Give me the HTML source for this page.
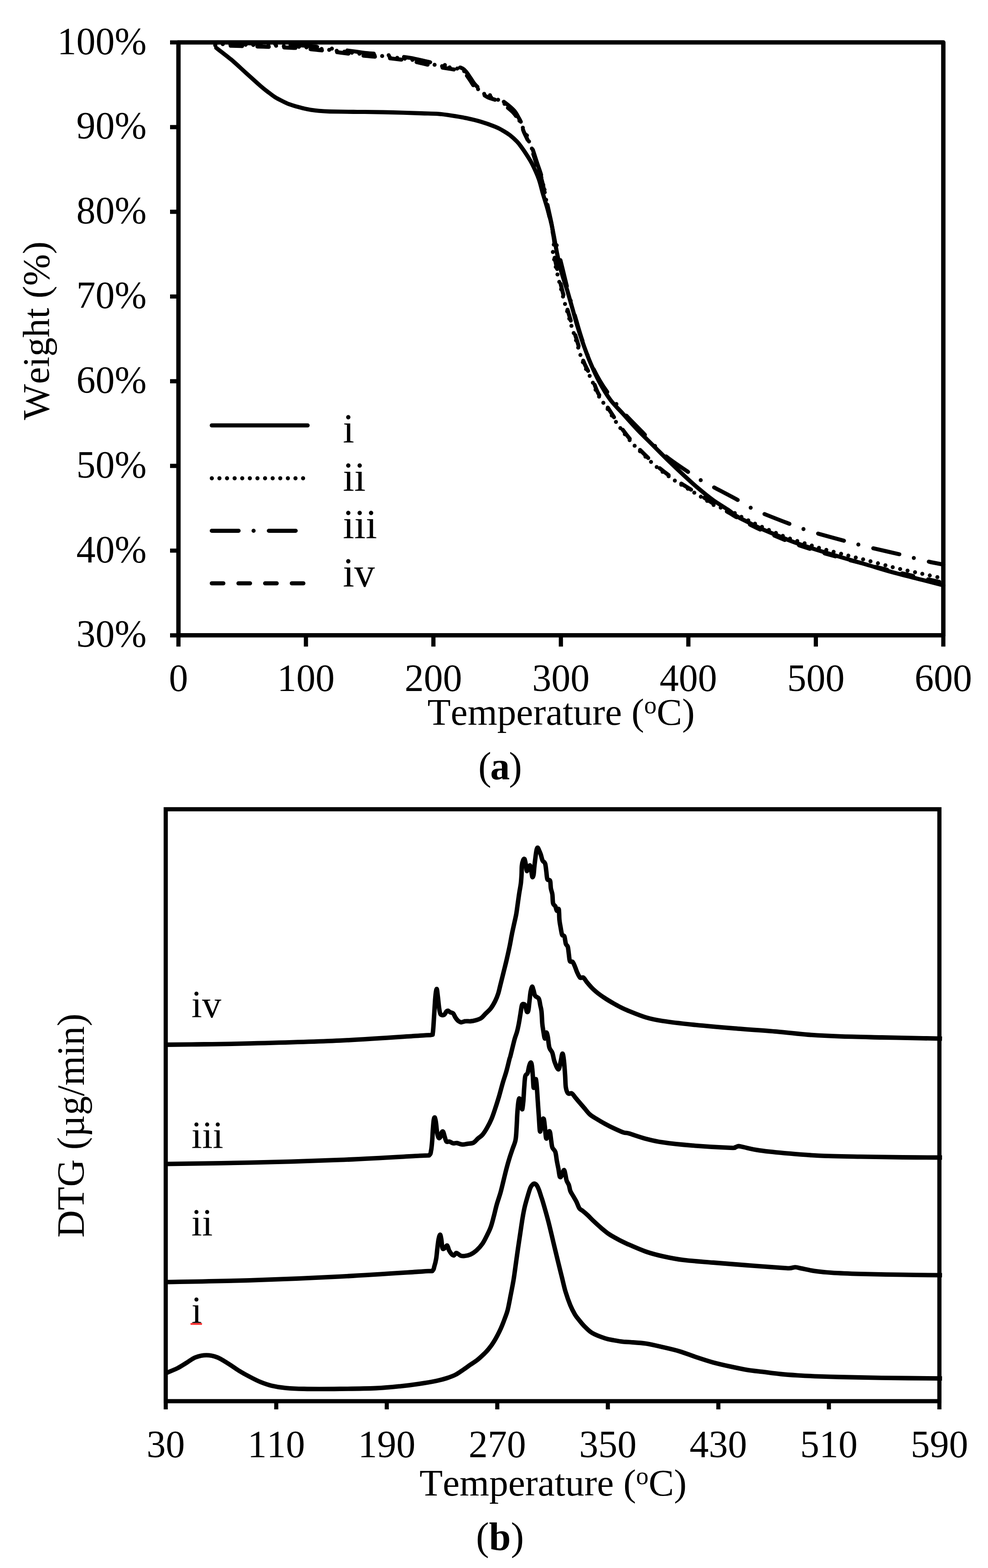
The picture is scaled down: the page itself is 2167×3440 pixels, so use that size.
<!DOCTYPE html>
<html lang="en"><head><meta charset="utf-8"><title>TGA and DTG curves</title>
<style>html,body{margin:0;padding:0;background:#fff}body{width:2167px;height:3440px;overflow:hidden}svg{display:block}text{font-family:'Liberation Serif', 'DejaVu Serif', serif;fill:#000;font-kerning:none;font-variant-ligatures:none}</style>
</head><body>
<svg width="2167" height="3440" viewBox="0 0 2167 3440">
<rect width="2167" height="3440" fill="#fff"/>
<g id="chart-a">
<g fill="none" stroke="#000" stroke-linecap="butt" stroke-linejoin="round">
<rect x="391.4" y="93.0" width="1677.6" height="1300.8" stroke-width="9.6"/>
<path d="M373,93.0H391.4 M373,278.8H391.4 M373,464.7H391.4 M373,650.5H391.4 M373,836.3H391.4 M373,1022.1H391.4 M373,1208.0H391.4 M373,1393.8H391.4 M391.4,1393.8V1418.5 M671.0,1393.8V1418.5 M950.6,1393.8V1418.5 M1230.2,1393.8V1418.5 M1509.8,1393.8V1418.5 M1789.4,1393.8V1418.5 M2069.0,1393.8V1418.5" stroke-width="9.2"/>
</g>
<g font-size="84" text-anchor="end">
<text x="321.5" y="118.5">100%</text>
<text x="321.5" y="304.3">90%</text>
<text x="321.5" y="490.2">80%</text>
<text x="321.5" y="676.0">70%</text>
<text x="321.5" y="861.8">60%</text>
<text x="321.5" y="1047.6">50%</text>
<text x="321.5" y="1233.5">40%</text>
<text x="321.5" y="1419.3">30%</text>
</g>
<g font-size="84" text-anchor="middle">
<text x="391.4" y="1515.5">0</text>
<text x="671.0" y="1515.5">100</text>
<text x="950.6" y="1515.5">200</text>
<text x="1230.2" y="1515.5">300</text>
<text x="1509.8" y="1515.5">400</text>
<text x="1789.4" y="1515.5">500</text>
<text x="2069.0" y="1515.5">600</text>
<text x="1230.7" y="1590" font-size="83.5">Temperature (<tspan font-size="55" dy="-25">o</tspan><tspan dy="25">C)</tspan></text>
</g>
<text font-size="83.5" text-anchor="middle" transform="translate(107.4,725.5) rotate(-90)">Weight (%)</text>
<path d="M472.0,96.5 C487.5,96.9 536.3,98.1 565.0,99.0 C593.7,99.9 624.3,101.0 644.0,102.0 C663.7,103.0 669.8,103.8 683.0,105.0 C696.2,106.2 707.7,107.7 723.0,109.5 C738.3,111.3 762.2,114.3 775.0,116.0 C787.8,117.7 790.8,118.5 800.0,119.5 C809.2,120.5 820.0,121.0 830.0,122.0 C840.0,123.0 848.3,124.1 860.0,125.5 C871.7,126.9 888.0,128.5 900.0,130.5 C912.0,132.5 922.0,135.3 932.0,137.5 C942.0,139.7 950.3,141.7 960.0,143.5 C969.7,145.3 981.3,147.0 990.0,148.5 C998.7,150.0 1006.7,150.5 1012.0,152.5 C1017.3,154.5 1018.7,156.8 1022.0,160.5 C1025.3,164.2 1029.0,170.2 1032.0,174.5 C1035.0,178.8 1036.7,182.5 1040.0,186.5 C1043.3,190.5 1047.0,194.5 1052.0,198.5 C1057.0,202.5 1063.7,207.3 1070.0,210.5 C1076.3,213.7 1083.3,214.2 1090.0,217.5 C1096.7,220.8 1103.7,225.7 1110.0,230.5 C1116.3,235.3 1123.3,241.2 1128.0,246.5 C1132.7,251.8 1135.0,257.2 1138.0,262.5 C1141.0,267.8 1144.0,274.2 1146.0,278.5 C1148.0,282.8 1146.8,281.5 1149.9,288.4 C1152.9,295.3 1159.8,308.2 1164.4,320.1 C1169.0,331.9 1173.4,346.9 1177.6,359.6 C1181.7,372.3 1185.7,381.6 1189.4,396.5 C1193.2,411.5 1196.7,433.4 1200.0,449.3 C1203.3,465.1 1206.6,478.3 1209.2,491.4 C1211.8,504.6 1215.2,517.6 1215.8,528.4 C1216.4,539.1 1210.4,537.5 1213.0,555.7 C1215.6,573.9 1225.3,612.9 1231.4,637.5 C1237.6,662.1 1244.6,685.4 1249.9,703.4 C1255.2,721.4 1258.2,730.2 1263.1,745.6 C1267.9,761.0 1273.2,781.2 1278.9,795.7 C1284.6,810.2 1292.1,821.2 1297.4,832.6 C1302.6,844.0 1305.2,854.2 1310.5,864.2 C1315.9,874.2 1321.7,880.8 1329.5,892.5 C1337.3,904.2 1347.3,920.8 1357.2,934.5 C1367.1,948.2 1375.8,960.3 1389.1,974.8 C1402.4,989.3 1422.0,1008.4 1436.9,1021.5 C1451.8,1034.6 1462.1,1042.0 1478.5,1053.2 C1494.9,1064.4 1520.2,1079.1 1535.2,1088.5 C1550.2,1097.9 1558.1,1104.5 1568.5,1109.5 C1578.9,1114.5 1586.5,1113.6 1597.7,1118.5 C1608.9,1123.4 1623.8,1132.9 1635.4,1138.8 C1647.0,1144.7 1656.9,1149.2 1667.3,1154.0 C1677.7,1158.8 1687.4,1163.1 1697.8,1167.5 C1708.2,1171.9 1717.9,1176.2 1729.7,1180.5 C1741.5,1184.8 1757.1,1189.3 1768.8,1193.1 C1780.5,1196.8 1787.3,1199.3 1800.0,1203.0 C1812.7,1206.7 1828.3,1210.7 1845.0,1215.0 C1861.7,1219.3 1879.8,1223.8 1900.0,1229.0 C1920.2,1234.2 1949.3,1242.2 1966.0,1246.3 C1982.7,1250.4 1989.0,1251.4 2000.0,1253.8 C2011.0,1256.2 2020.5,1258.4 2032.0,1260.9 C2043.5,1263.4 2062.8,1267.7 2069.0,1269.0" fill="none" stroke="#000" stroke-width="8.8" stroke-linecap="round" stroke-linejoin="round" stroke-dasharray="0 16.7"/>
<path d="M472.0,99.5 C487.5,99.9 536.3,101.1 565.0,102.0 C593.7,102.9 624.3,104.0 644.0,105.0 C663.7,106.0 669.8,106.8 683.0,108.0 C696.2,109.2 707.7,110.7 723.0,112.5 C738.3,114.3 762.2,117.3 775.0,119.0 C787.8,120.7 790.8,121.5 800.0,122.5 C809.2,123.5 820.0,124.0 830.0,125.0 C840.0,126.0 848.3,127.1 860.0,128.5 C871.7,129.9 888.0,131.5 900.0,133.5 C912.0,135.5 922.0,138.3 932.0,140.5 C942.0,142.7 950.3,144.7 960.0,146.5 C969.7,148.3 981.3,150.0 990.0,151.5 C998.7,153.0 1006.7,153.5 1012.0,155.5 C1017.3,157.5 1018.7,159.8 1022.0,163.5 C1025.3,167.2 1029.0,173.2 1032.0,177.5 C1035.0,181.8 1036.7,185.5 1040.0,189.5 C1043.3,193.5 1047.0,197.5 1052.0,201.5 C1057.0,205.5 1063.7,210.3 1070.0,213.5 C1076.3,216.7 1083.3,217.2 1090.0,220.5 C1096.7,223.8 1103.7,228.7 1110.0,233.5 C1116.3,238.3 1123.3,244.2 1128.0,249.5 C1132.7,254.8 1135.0,260.2 1138.0,265.5 C1141.0,270.8 1144.0,277.2 1146.0,281.5 C1148.0,285.8 1146.8,284.5 1149.9,291.4 C1152.9,298.3 1159.8,311.2 1164.4,323.1 C1169.0,334.9 1173.4,349.9 1177.6,362.6 C1181.7,375.3 1185.7,384.6 1189.4,399.5 C1193.2,414.5 1196.7,436.4 1200.0,452.3 C1203.3,468.1 1206.6,481.3 1209.2,494.4 C1211.8,507.6 1214.9,521.4 1215.8,531.4 C1216.7,541.3 1211.6,536.8 1214.5,554.2 C1217.3,571.7 1226.8,611.4 1232.9,636.0 C1239.1,660.6 1246.1,683.9 1251.4,701.9 C1256.7,719.9 1259.7,728.7 1264.6,744.1 C1269.4,759.5 1274.7,779.7 1280.4,794.2 C1286.1,808.7 1293.6,819.7 1298.9,831.1 C1304.1,842.5 1306.7,852.7 1312.0,862.7 C1317.4,872.7 1323.2,879.3 1331.0,891.0 C1338.8,902.7 1348.8,919.3 1358.7,933.0 C1368.6,946.7 1377.3,958.8 1390.6,973.3 C1403.9,987.8 1423.5,1006.9 1438.4,1020.0 C1453.3,1033.1 1463.6,1040.5 1480.0,1051.7 C1496.4,1062.9 1521.7,1077.6 1536.7,1087.0 C1551.7,1096.4 1559.5,1101.6 1570.0,1108.0 C1580.5,1114.4 1592.1,1120.9 1600.0,1125.5 C1607.9,1130.1 1610.6,1132.0 1617.3,1135.8 C1624.0,1139.6 1631.7,1144.0 1640.0,1148.3 C1648.3,1152.6 1657.7,1157.4 1667.3,1161.8 C1676.9,1166.2 1687.4,1170.4 1697.8,1174.8 C1708.2,1179.2 1719.1,1183.8 1729.7,1187.9 C1740.3,1192.0 1749.9,1195.4 1761.6,1199.3 C1773.3,1203.2 1786.1,1207.4 1800.0,1211.5 C1813.9,1215.6 1828.3,1219.6 1845.0,1224.0 C1861.7,1228.4 1880.8,1233.1 1900.0,1238.0 C1919.2,1242.9 1938.1,1248.2 1960.0,1253.5 C1981.9,1258.8 2013.0,1265.8 2031.2,1270.0 C2049.4,1274.2 2062.7,1277.1 2069.0,1278.5" fill="none" stroke="#000" stroke-width="8.8" stroke-linecap="round" stroke-linejoin="round" stroke-dasharray="25 33.5" stroke-dashoffset="24.5"/>
<path d="M472.0,93.0 C487.5,93.4 536.3,94.6 565.0,95.5 C593.7,96.4 624.3,97.5 644.0,98.5 C663.7,99.5 669.8,100.2 683.0,101.5 C696.2,102.8 707.7,104.2 723.0,106.0 C738.3,107.8 762.2,110.8 775.0,112.5 C787.8,114.2 790.8,115.0 800.0,116.0 C809.2,117.0 820.0,117.5 830.0,118.5 C840.0,119.5 848.3,120.6 860.0,122.0 C871.7,123.4 888.0,125.0 900.0,127.0 C912.0,129.0 922.0,131.8 932.0,134.0 C942.0,136.2 950.3,138.2 960.0,140.0 C969.7,141.8 981.3,143.5 990.0,145.0 C998.7,146.5 1006.7,147.0 1012.0,149.0 C1017.3,151.0 1018.7,153.3 1022.0,157.0 C1025.3,160.7 1029.0,166.7 1032.0,171.0 C1035.0,175.3 1036.7,179.0 1040.0,183.0 C1043.3,187.0 1047.0,191.0 1052.0,195.0 C1057.0,199.0 1063.7,203.8 1070.0,207.0 C1076.3,210.2 1083.3,210.7 1090.0,214.0 C1096.7,217.3 1103.7,222.2 1110.0,227.0 C1116.3,231.8 1123.3,237.7 1128.0,243.0 C1132.7,248.3 1135.0,253.7 1138.0,259.0 C1141.0,264.3 1144.0,270.7 1146.0,275.0 C1148.0,279.3 1146.8,278.0 1149.9,284.9 C1152.9,291.8 1159.8,304.7 1164.4,316.6 C1169.0,328.4 1173.4,343.4 1177.6,356.1 C1181.7,368.8 1185.7,378.1 1189.4,393.0 C1193.2,408.0 1196.7,429.9 1200.0,445.8 C1203.3,461.6 1206.6,474.8 1209.2,487.9 C1211.8,501.1 1213.8,516.4 1215.8,524.9 C1217.8,533.3 1218.0,527.4 1221.1,538.4 C1224.1,549.5 1229.9,573.6 1234.3,591.1 C1238.6,608.7 1243.0,627.2 1247.4,643.9 C1251.8,660.6 1255.8,674.6 1260.6,691.3 C1265.5,708.0 1270.7,726.9 1276.4,744.1 C1282.2,761.2 1288.4,779.0 1294.9,794.2 C1301.4,809.3 1308.6,823.1 1315.5,835.0 C1322.4,847.0 1327.6,854.2 1336.3,865.9 C1345.0,877.6 1355.5,891.4 1367.6,905.0 C1379.6,918.7 1394.2,932.7 1408.8,947.9 C1423.3,963.1 1438.4,981.9 1454.9,996.3 C1471.4,1010.7 1494.7,1025.2 1507.6,1034.2 C1520.6,1043.3 1523.6,1045.4 1532.4,1050.7 C1541.1,1056.0 1545.9,1058.4 1560.0,1066.0 C1574.1,1073.6 1602.9,1088.5 1617.0,1096.3 C1631.1,1104.1 1634.9,1107.7 1644.4,1112.7 C1653.9,1117.7 1659.2,1120.3 1673.9,1126.5 C1688.6,1132.7 1718.0,1144.0 1732.7,1149.7 C1747.4,1155.4 1752.1,1157.3 1762.2,1160.7 C1772.3,1164.1 1778.0,1165.9 1793.2,1170.3 C1808.5,1174.7 1838.5,1182.8 1853.7,1187.0 C1869.0,1191.2 1874.3,1192.5 1884.7,1195.2 C1895.1,1197.9 1900.4,1199.3 1916.0,1203.0 C1931.6,1206.7 1962.9,1213.6 1978.3,1217.3 C1993.7,1221.0 1998.5,1222.7 2008.6,1225.2 C2018.7,1227.8 2028.7,1230.4 2038.8,1232.6 C2048.9,1234.8 2064.0,1237.6 2069.0,1238.6" fill="none" stroke="#000" stroke-width="8.8" stroke-linecap="round" stroke-linejoin="round" stroke-dasharray="58.5 33 0 33.7" stroke-dashoffset="-40"/>
<path d="M474.2,105.0 C479.8,109.3 496.7,122.0 507.5,131.1 C518.3,140.2 528.6,150.1 539.1,159.6 C549.6,169.1 562.9,181.2 570.8,188.1 C578.7,195.0 581.3,196.7 586.6,200.8 C591.9,204.9 597.1,209.2 602.4,212.6 C607.7,216.0 612.9,218.6 618.2,221.3 C623.5,224.0 628.7,226.6 634.0,228.6 C639.3,230.6 644.6,232.1 649.9,233.6 C655.2,235.1 660.4,236.6 665.7,237.8 C671.0,239.0 675.8,240.1 681.5,241.0 C687.2,241.9 693.1,242.7 700.0,243.3 C706.9,243.9 710.2,244.2 722.8,244.6 C735.4,244.9 762.6,245.2 775.5,245.4 C788.4,245.6 785.6,245.3 800.0,245.5 C814.4,245.7 841.2,246.1 862.0,246.6 C882.8,247.1 908.7,248.1 925.0,248.6 C941.3,249.1 948.9,248.9 960.0,249.8 C971.1,250.6 981.1,252.1 991.6,253.7 C1002.2,255.3 1012.7,257.0 1023.3,259.3 C1033.8,261.5 1044.4,264.0 1054.9,267.2 C1065.5,270.3 1078.7,275.1 1086.6,278.3 C1094.5,281.4 1097.1,283.1 1102.4,286.2 C1107.7,289.2 1112.9,292.4 1118.2,296.4 C1123.5,300.5 1129.7,306.2 1134.0,310.7 C1138.3,315.1 1140.5,318.5 1144.0,323.2 C1147.5,327.9 1151.0,333.0 1154.8,339.0 C1158.6,345.0 1162.3,350.1 1166.8,359.0 C1171.3,367.9 1177.6,381.4 1181.6,392.4 C1185.6,403.4 1187.5,414.0 1190.7,424.8 C1193.9,435.6 1197.4,446.4 1200.5,457.2 C1203.6,468.0 1206.6,478.8 1209.1,489.6 C1211.6,500.4 1213.5,511.2 1215.6,522.0 C1217.7,532.8 1219.3,543.5 1221.5,554.3 C1223.7,565.1 1226.1,577.1 1228.5,586.7 C1230.9,596.3 1233.3,603.2 1236.0,612.0 C1238.7,620.8 1241.6,628.4 1244.9,639.6 C1248.2,650.8 1252.3,665.9 1256.1,679.1 C1259.8,692.3 1263.3,705.5 1267.4,718.7 C1271.5,731.9 1275.8,745.0 1280.5,758.2 C1285.2,771.4 1290.1,784.6 1295.7,797.8 C1301.3,811.0 1307.1,824.1 1314.2,837.3 C1321.3,850.5 1329.9,865.2 1338.5,876.9 C1347.1,888.6 1355.9,896.2 1365.9,907.3 C1376.0,918.5 1387.9,932.1 1398.9,943.6 C1409.9,955.1 1420.9,965.6 1431.8,976.6 C1442.8,987.5 1453.8,998.8 1464.8,1009.5 C1475.8,1020.2 1486.8,1030.7 1497.8,1040.8 C1508.7,1051.0 1519.7,1061.2 1530.7,1070.5 C1541.7,1079.8 1552.7,1088.9 1563.7,1096.9 C1574.7,1104.8 1587.7,1112.2 1596.6,1118.3 C1605.6,1124.4 1610.1,1128.8 1617.3,1133.3 C1624.5,1137.8 1631.7,1141.0 1640.0,1145.3 C1648.3,1149.5 1657.7,1154.4 1667.3,1158.8 C1676.9,1163.2 1687.4,1167.4 1697.8,1171.8 C1708.2,1176.2 1719.1,1180.8 1729.7,1184.9 C1740.3,1189.0 1749.9,1192.5 1761.6,1196.5 C1773.3,1200.5 1786.1,1204.7 1800.0,1209.0 C1813.9,1213.3 1828.3,1217.6 1845.0,1222.5 C1861.7,1227.4 1880.8,1232.9 1900.0,1238.5 C1919.2,1244.1 1938.1,1250.2 1960.0,1256.2 C1981.9,1262.2 2013.0,1269.7 2031.2,1274.4 C2049.4,1279.1 2062.7,1282.6 2069.0,1284.2" fill="none" stroke="#000" stroke-width="9.1" stroke-linecap="round" stroke-linejoin="round"/>
<g fill="none" stroke="#000" stroke-width="9.0" stroke-linecap="round">
<path d="M464.5,933.3H674.7"/>
<path d="M464.6,1049.3H670" stroke-dasharray="0 16.68"/>
<path d="M464.5,1164.4H650" stroke-dasharray="58.8 32.9 0 33.5"/>
<path d="M464.5,1279.8H670" stroke-dasharray="25.4 33.1"/>
</g>
<g font-size="90">
<text x="752" y="971">i</text>
<text x="752" y="1076.8">ii</text>
<text x="752" y="1181.2">iii</text>
<text x="752" y="1287">iv</text>
</g>
<text x="1097" y="1710" font-size="86" text-anchor="middle">(<tspan font-weight="bold" dx="-2.5">a</tspan><tspan dx="-2">)</tspan></text>
</g>
<g id="chart-b">
<path d="M363.7,2292.0 C373.1,2291.9 389.3,2291.9 420.0,2291.4 C450.7,2290.9 493.5,2290.6 547.8,2289.2 C602.0,2287.8 683.5,2285.7 745.5,2282.9 C807.5,2280.0 886.4,2274.2 919.8,2272.1 C953.1,2270.0 940.5,2271.6 945.5,2270.5 C950.4,2269.3 948.3,2272.1 949.4,2265.2 C950.5,2258.3 951.2,2241.6 952.1,2228.9 C953.0,2216.3 953.8,2199.3 954.7,2189.4 C955.6,2179.5 956.7,2170.1 957.7,2169.6 C958.6,2169.0 959.4,2178.9 960.3,2186.1 C961.3,2193.2 962.2,2205.9 963.3,2212.4 C964.3,2219.0 964.8,2223.3 966.6,2225.6 C968.4,2227.9 972.1,2227.4 974.2,2226.3 C976.2,2225.2 977.7,2220.5 979.1,2219.0 C980.5,2217.6 981.0,2217.1 982.4,2217.4 C983.8,2217.7 985.4,2219.7 987.3,2220.7 C989.3,2221.7 992.0,2221.4 993.9,2223.3 C995.9,2225.2 997.1,2229.5 998.9,2232.2 C1000.7,2234.9 1002.7,2237.7 1004.8,2239.5 C1006.9,2241.2 1008.8,2242.6 1011.4,2242.8 C1014.0,2242.9 1016.9,2240.8 1020.3,2240.5 C1023.7,2240.1 1028.3,2240.7 1031.8,2240.5 C1035.4,2240.2 1037.9,2239.9 1041.7,2238.8 C1045.6,2237.7 1051.1,2236.3 1054.9,2233.9 C1058.8,2231.4 1061.2,2227.6 1064.8,2224.0 C1068.4,2220.4 1072.8,2217.1 1076.3,2212.4 C1079.9,2207.8 1083.5,2201.5 1086.2,2196.0 C1089.0,2190.5 1090.9,2185.5 1092.8,2179.5 C1094.7,2173.4 1095.8,2167.4 1097.8,2159.7 C1099.7,2152.0 1102.2,2142.1 1104.4,2133.3 C1106.5,2124.6 1108.7,2116.3 1110.9,2107.0 C1113.1,2097.6 1115.6,2086.6 1117.5,2077.3 C1119.5,2068.0 1120.8,2059.2 1122.5,2050.9 C1124.1,2042.7 1125.8,2035.6 1127.4,2027.9 C1129.1,2020.2 1131.0,2012.5 1132.4,2004.8 C1133.7,1997.1 1134.6,1989.4 1135.7,1981.7 C1136.8,1974.0 1137.9,1965.8 1139.0,1958.7 C1140.1,1951.5 1141.4,1945.5 1142.3,1938.9 C1143.1,1932.3 1143.5,1925.7 1143.9,1919.1 C1144.3,1912.5 1144.0,1904.5 1144.6,1899.3 C1145.1,1894.1 1146.2,1890.3 1147.2,1887.8 C1148.2,1885.3 1149.5,1883.1 1150.5,1884.5 C1151.5,1885.9 1152.3,1891.6 1153.1,1896.0 C1154.0,1900.4 1154.2,1910.0 1155.4,1910.9 C1156.6,1911.7 1159.2,1902.9 1160.4,1901.0 C1161.6,1899.1 1161.9,1897.7 1162.7,1899.3 C1163.5,1901.0 1164.5,1906.7 1165.3,1910.9 C1166.2,1915.0 1166.8,1922.7 1167.6,1924.0 C1168.5,1925.4 1169.6,1922.7 1170.3,1919.1 C1171.0,1915.5 1171.3,1908.7 1171.9,1902.6 C1172.6,1896.6 1173.4,1889.2 1174.2,1882.8 C1175.0,1876.5 1176.0,1868.6 1176.9,1864.7 C1177.7,1860.9 1178.5,1859.5 1179.5,1859.8 C1180.5,1860.1 1181.7,1863.9 1182.8,1866.4 C1183.9,1868.8 1184.9,1871.0 1186.1,1874.6 C1187.3,1878.2 1188.5,1884.5 1190.0,1887.8 C1191.6,1891.1 1194.3,1890.3 1195.6,1894.4 C1197.0,1898.5 1197.5,1906.7 1198.3,1912.5 C1199.1,1918.3 1199.2,1925.7 1200.6,1929.0 C1202.0,1932.3 1205.3,1929.0 1206.5,1932.3 C1207.8,1935.6 1207.4,1943.8 1208.2,1948.8 C1209.0,1953.7 1210.6,1956.5 1211.5,1962.0 C1212.3,1967.4 1212.0,1977.3 1213.1,1981.7 C1214.2,1986.1 1216.7,1985.6 1218.1,1988.3 C1219.4,1991.1 1220.1,1997.1 1221.4,1998.2 C1222.6,1999.3 1224.7,1991.6 1225.6,1994.9 C1226.6,1998.2 1226.3,2011.4 1227.0,2018.0 C1227.6,2024.6 1228.6,2029.0 1229.6,2034.5 C1230.6,2040.0 1231.5,2047.6 1232.9,2050.9 C1234.3,2054.2 1236.5,2050.9 1237.8,2054.2 C1239.2,2057.5 1239.9,2066.9 1241.1,2070.7 C1242.4,2074.6 1244.3,2073.5 1245.4,2077.3 C1246.5,2081.2 1247.0,2088.6 1247.7,2093.8 C1248.5,2099.0 1248.7,2105.9 1250.0,2108.6 C1251.4,2111.4 1254.2,2108.3 1256.0,2110.3 C1257.8,2112.2 1259.3,2116.3 1260.9,2120.2 C1262.6,2124.0 1263.9,2129.2 1265.9,2133.3 C1267.8,2137.5 1270.1,2143.0 1272.4,2144.9 C1274.8,2146.8 1277.2,2143.2 1279.7,2144.9 C1282.2,2146.5 1284.1,2150.9 1287.3,2154.8 C1290.5,2158.6 1294.7,2163.8 1298.8,2167.9 C1302.9,2172.1 1307.1,2175.6 1312.0,2179.5 C1316.9,2183.3 1323.0,2187.5 1328.5,2191.0 C1334.0,2194.6 1339.5,2197.8 1345.0,2200.9 C1350.5,2204.0 1355.9,2207.1 1361.4,2209.8 C1366.9,2212.6 1374.8,2216.0 1377.9,2217.4 C1381.0,2218.8 1373.5,2215.8 1380.0,2218.3 C1386.5,2220.8 1404.6,2228.5 1416.9,2232.1 C1429.2,2235.8 1436.9,2237.4 1453.8,2240.0 C1470.7,2242.6 1492.3,2245.1 1518.4,2247.8 C1544.6,2250.5 1580.0,2253.6 1610.7,2256.1 C1641.5,2258.7 1676.1,2260.7 1703.0,2263.1 C1729.9,2265.4 1749.1,2268.2 1772.2,2270.0 C1795.3,2271.7 1814.5,2272.7 1841.4,2273.7 C1868.4,2274.7 1903.0,2275.3 1933.7,2276.0 C1964.5,2276.7 2003.9,2277.4 2026.0,2277.8 C2048.1,2278.3 2059.5,2278.6 2066.2,2278.7" fill="none" stroke="#000" stroke-width="9.8" stroke-linecap="butt" stroke-linejoin="round"/>
<path d="M363.7,2553.6 C394.4,2553.1 484.1,2552.1 547.8,2550.7 C611.4,2549.2 683.5,2547.2 745.5,2544.7 C807.5,2542.2 887.2,2537.4 919.8,2535.7 C952.4,2533.9 936.9,2535.9 941.2,2534.0 C945.5,2532.1 944.4,2529.1 945.5,2524.1 C946.6,2519.2 947.1,2512.0 947.8,2504.4 C948.5,2496.7 948.8,2485.9 949.4,2478.0 C950.0,2470.0 950.7,2461.0 951.4,2456.6 C952.1,2452.2 953.0,2450.8 953.7,2451.6 C954.5,2452.4 955.2,2456.0 956.0,2461.5 C956.9,2467.0 957.7,2478.8 958.7,2484.6 C959.7,2490.3 960.8,2494.5 962.0,2496.1 C963.2,2497.8 964.8,2496.4 965.9,2494.5 C967.0,2492.5 967.6,2486.5 968.6,2484.6 C969.5,2482.7 970.8,2481.6 971.9,2482.9 C973.0,2484.3 973.9,2489.2 975.1,2492.8 C976.4,2496.4 977.3,2502.4 979.1,2504.4 C980.9,2506.3 983.2,2503.7 985.7,2504.4 C988.2,2505.0 991.2,2507.8 993.9,2508.3 C996.7,2508.9 998.9,2507.2 1002.2,2507.6 C1005.5,2508.1 1009.9,2510.7 1013.7,2510.9 C1017.6,2511.2 1021.1,2510.0 1025.2,2509.3 C1029.4,2508.6 1034.6,2508.9 1038.4,2507.0 C1042.3,2505.1 1045.0,2500.7 1048.3,2497.8 C1051.6,2494.8 1054.9,2493.4 1058.2,2489.5 C1061.5,2485.7 1064.8,2480.5 1068.1,2474.7 C1071.4,2468.9 1075.0,2462.1 1078.0,2454.9 C1081.0,2447.8 1083.5,2440.1 1086.2,2431.8 C1089.0,2423.6 1091.7,2414.8 1094.5,2405.5 C1097.2,2396.1 1100.0,2385.1 1102.7,2375.8 C1105.4,2366.5 1108.5,2358.2 1110.9,2349.4 C1113.4,2340.7 1116.2,2328.3 1117.5,2323.1 C1118.9,2317.8 1118.1,2322.1 1119.2,2317.9 C1120.3,2313.8 1122.5,2304.7 1124.1,2298.1 C1125.8,2291.5 1127.4,2284.1 1129.1,2278.4 C1130.7,2272.6 1132.5,2269.0 1134.0,2263.5 C1135.5,2258.0 1136.8,2251.7 1138.0,2245.4 C1139.2,2239.1 1140.2,2232.2 1141.3,2225.6 C1142.4,2219.0 1143.5,2209.7 1144.6,2205.9 C1145.7,2202.0 1146.6,2202.6 1147.9,2202.6 C1149.1,2202.6 1150.9,2203.1 1152.1,2205.9 C1153.4,2208.6 1154.3,2217.1 1155.4,2219.0 C1156.5,2221.0 1157.8,2220.7 1158.7,2217.4 C1159.7,2214.1 1160.2,2206.1 1161.0,2199.3 C1161.9,2192.4 1162.7,2182.0 1163.7,2176.2 C1164.7,2170.4 1165.9,2165.2 1167.0,2164.7 C1168.1,2164.1 1169.2,2169.6 1170.3,2172.9 C1171.4,2176.2 1171.6,2181.4 1173.6,2184.4 C1175.5,2187.5 1179.9,2187.5 1181.8,2191.0 C1183.7,2194.6 1184.1,2201.2 1185.1,2205.9 C1186.1,2210.5 1187.0,2212.4 1187.7,2219.0 C1188.5,2225.6 1188.7,2238.3 1189.4,2245.4 C1190.0,2252.5 1190.8,2256.4 1191.7,2261.9 C1192.6,2267.4 1193.9,2277.8 1195.0,2278.4 C1196.1,2278.9 1197.2,2265.7 1198.3,2265.2 C1199.4,2264.6 1200.5,2269.6 1201.6,2275.1 C1202.7,2280.6 1203.2,2292.3 1204.9,2298.1 C1206.5,2303.9 1209.5,2304.6 1211.5,2309.9 C1213.4,2315.1 1214.2,2323.6 1216.4,2329.7 C1218.6,2335.7 1222.5,2346.1 1224.7,2346.1 C1226.9,2346.1 1228.1,2335.4 1229.6,2329.7 C1231.1,2323.9 1232.3,2312.1 1233.6,2311.5 C1234.8,2311.0 1235.9,2318.4 1236.8,2326.4 C1237.8,2334.3 1238.8,2349.4 1239.5,2359.3 C1240.2,2369.2 1240.0,2379.1 1241.1,2385.7 C1242.2,2392.3 1243.9,2396.7 1246.1,2398.9 C1248.3,2401.1 1251.6,2397.2 1254.3,2398.9 C1257.1,2400.5 1259.5,2405.2 1262.6,2408.8 C1265.6,2412.3 1269.1,2416.5 1272.4,2420.3 C1275.7,2424.1 1278.8,2427.7 1282.3,2431.8 C1285.9,2436.0 1289.5,2441.2 1293.9,2445.0 C1298.3,2448.9 1302.9,2451.3 1308.7,2454.9 C1314.5,2458.5 1321.9,2462.9 1328.5,2466.4 C1335.1,2470.0 1341.7,2473.3 1348.3,2476.3 C1354.8,2479.4 1362.7,2482.8 1368.0,2484.6 C1373.3,2486.3 1371.9,2484.5 1380.0,2486.8 C1388.1,2489.2 1404.6,2495.2 1416.9,2498.4 C1429.2,2501.6 1436.9,2503.8 1453.8,2506.2 C1470.7,2508.7 1493.8,2511.2 1518.4,2513.2 C1543.0,2515.2 1585.7,2517.6 1601.5,2518.2 C1617.3,2518.8 1609.9,2517.5 1613.0,2516.8 C1616.1,2516.2 1616.9,2514.5 1619.9,2514.5 C1623.0,2514.5 1623.8,2515.3 1631.5,2516.8 C1639.2,2518.4 1649.6,2521.5 1666.1,2523.8 C1682.6,2526.1 1709.2,2528.8 1730.7,2530.7 C1752.2,2532.6 1769.1,2534.1 1795.3,2535.3 C1821.4,2536.5 1856.8,2537.0 1887.6,2537.6 C1918.3,2538.2 1950.1,2538.7 1979.9,2539.0 C2009.6,2539.3 2051.8,2539.4 2066.2,2539.5" fill="none" stroke="#000" stroke-width="9.8" stroke-linecap="butt" stroke-linejoin="round"/>
<path d="M363.7,2812.7 C394.4,2812.1 484.1,2810.9 547.8,2808.9 C611.4,2806.9 682.4,2803.9 745.5,2800.6 C808.6,2797.4 892.7,2791.6 926.4,2789.5 C960.1,2787.3 943.4,2789.7 947.8,2787.8 C952.2,2785.9 951.3,2782.3 952.7,2777.9 C954.2,2773.5 955.6,2768.0 956.7,2761.4 C957.8,2754.8 958.4,2745.5 959.3,2738.4 C960.2,2731.2 961.0,2723.5 962.0,2718.6 C963.0,2713.6 964.3,2708.7 965.3,2708.7 C966.2,2708.7 967.0,2713.6 967.9,2718.6 C968.8,2723.5 969.3,2735.1 970.5,2738.4 C971.7,2741.7 973.4,2739.4 975.1,2738.4 C976.9,2737.4 979.1,2731.6 980.8,2732.4 C982.4,2733.3 983.4,2740.1 985.0,2743.3 C986.7,2746.5 988.9,2749.7 990.6,2751.5 C992.4,2753.4 993.9,2754.6 995.6,2754.2 C997.2,2753.7 999.0,2749.5 1000.5,2748.9 C1002.1,2748.4 1003.2,2749.9 1004.8,2750.9 C1006.5,2751.9 1008.1,2754.1 1010.4,2754.8 C1012.7,2755.6 1015.1,2755.9 1018.7,2755.5 C1022.2,2755.1 1027.4,2754.2 1031.8,2752.2 C1036.2,2750.2 1040.6,2747.3 1045.0,2743.3 C1049.4,2739.4 1054.4,2734.0 1058.2,2728.5 C1062.1,2723.0 1065.1,2716.4 1068.1,2710.3 C1071.1,2704.3 1073.9,2699.1 1076.3,2692.2 C1078.8,2685.4 1080.7,2677.4 1082.9,2669.1 C1085.1,2660.9 1087.0,2651.6 1089.5,2642.8 C1092.0,2634.0 1095.3,2625.2 1097.8,2616.4 C1100.2,2607.6 1102.2,2598.8 1104.4,2590.0 C1106.5,2581.3 1108.7,2571.9 1110.9,2563.7 C1113.1,2555.4 1115.3,2547.7 1117.5,2540.6 C1119.7,2533.5 1121.9,2527.4 1124.1,2520.8 C1126.3,2514.2 1129.2,2508.7 1130.7,2501.1 C1132.2,2493.4 1132.4,2484.6 1133.0,2474.7 C1133.7,2464.8 1134.0,2451.6 1134.7,2441.7 C1135.4,2431.8 1136.4,2420.6 1137.3,2415.4 C1138.2,2410.1 1139.0,2408.8 1139.9,2410.4 C1140.9,2412.1 1142.3,2421.4 1143.2,2425.2 C1144.2,2429.1 1144.8,2435.1 1145.6,2433.5 C1146.3,2431.8 1147.1,2423.3 1147.9,2415.4 C1148.6,2407.4 1149.1,2394.8 1149.8,2385.7 C1150.5,2376.6 1150.9,2366.2 1152.1,2361.0 C1153.4,2355.8 1155.7,2358.0 1157.1,2354.4 C1158.5,2350.8 1159.3,2343.4 1160.4,2339.6 C1161.5,2335.7 1162.7,2331.9 1163.7,2331.3 C1164.7,2330.8 1165.5,2331.6 1166.3,2336.3 C1167.1,2340.9 1168.0,2351.1 1168.6,2359.3 C1169.3,2367.6 1169.6,2382.4 1170.3,2385.7 C1171.0,2389.0 1172.0,2382.1 1172.9,2379.1 C1173.8,2376.1 1174.8,2366.5 1175.5,2367.6 C1176.3,2368.7 1176.9,2377.7 1177.5,2385.7 C1178.2,2393.7 1178.8,2404.9 1179.5,2415.4 C1180.2,2425.8 1181.0,2437.3 1181.8,2448.3 C1182.6,2459.3 1183.3,2476.9 1184.1,2481.3 C1184.9,2485.7 1185.9,2478.5 1186.8,2474.7 C1187.6,2470.8 1188.4,2461.5 1189.4,2458.2 C1190.4,2454.9 1191.7,2452.7 1192.7,2454.9 C1193.6,2457.1 1194.2,2464.5 1195.0,2471.4 C1195.8,2478.3 1196.7,2492.3 1197.6,2496.1 C1198.6,2500.0 1199.5,2496.7 1200.6,2494.5 C1201.6,2492.3 1202.9,2484.6 1203.9,2482.9 C1204.9,2481.3 1205.6,2481.0 1206.5,2484.6 C1207.4,2488.1 1208.3,2498.9 1209.2,2504.4 C1210.0,2509.8 1210.0,2513.7 1211.5,2517.5 C1213.0,2521.4 1216.4,2522.5 1218.1,2527.4 C1219.7,2532.4 1220.3,2541.2 1221.4,2547.2 C1222.5,2553.2 1223.6,2557.9 1224.7,2563.7 C1225.8,2569.4 1226.7,2579.3 1227.9,2581.8 C1229.2,2584.3 1230.8,2581.0 1232.2,2578.5 C1233.7,2576.0 1235.5,2567.2 1236.8,2567.0 C1238.2,2566.7 1239.2,2573.0 1240.1,2576.9 C1241.1,2580.7 1241.5,2586.2 1242.8,2590.0 C1244.0,2593.9 1246.4,2596.1 1247.7,2599.9 C1249.1,2603.8 1249.4,2609.0 1251.0,2613.1 C1252.7,2617.2 1255.4,2620.8 1257.6,2624.7 C1259.8,2628.5 1262.0,2631.8 1264.2,2636.2 C1266.4,2640.6 1268.6,2647.7 1270.8,2651.0 C1273.0,2654.3 1274.4,2653.5 1277.4,2656.0 C1280.4,2658.4 1284.8,2662.0 1288.9,2665.9 C1293.0,2669.7 1297.2,2674.4 1302.1,2679.0 C1307.1,2683.7 1313.1,2689.2 1318.6,2693.9 C1324.1,2698.5 1329.0,2702.9 1335.1,2707.1 C1341.1,2711.2 1348.3,2715.0 1354.8,2718.6 C1361.4,2722.2 1370.4,2726.5 1374.6,2728.5 C1378.8,2730.5 1373.0,2727.8 1380.0,2730.8 C1387.0,2733.7 1404.6,2741.7 1416.9,2746.0 C1429.2,2750.2 1440.0,2753.1 1453.8,2756.1 C1467.7,2759.2 1481.5,2762.1 1500.0,2764.4 C1518.4,2766.7 1542.3,2768.1 1564.6,2770.0 C1586.9,2771.8 1610.7,2773.7 1633.8,2775.5 C1656.9,2777.3 1686.9,2779.4 1703.0,2780.6 C1719.2,2781.7 1723.8,2782.5 1730.7,2782.4 C1737.6,2782.4 1739.9,2780.0 1744.5,2780.1 C1749.1,2780.2 1751.5,2781.5 1758.4,2782.9 C1765.3,2784.3 1775.3,2786.9 1786.1,2788.4 C1796.8,2790.0 1806.1,2791.0 1823.0,2792.1 C1839.9,2793.2 1861.4,2794.1 1887.6,2794.9 C1913.7,2795.7 1950.1,2796.3 1979.9,2796.7 C2009.6,2797.2 2051.8,2797.5 2066.2,2797.7" fill="none" stroke="#000" stroke-width="9.8" stroke-linecap="butt" stroke-linejoin="round"/>
<path d="M363.7,3012.5 C368.0,3010.7 381.9,3005.4 389.6,3001.5 C397.2,2997.7 402.7,2993.6 409.3,2989.7 C415.9,2985.7 421.9,2980.6 429.1,2977.8 C436.4,2975.0 444.9,2973.1 452.8,2973.1 C460.7,2973.1 468.7,2974.8 476.6,2977.8 C484.5,2980.9 492.4,2986.4 500.3,2991.3 C508.2,2996.1 516.1,3002.2 524.0,3007.1 C531.9,3012.0 539.8,3016.4 547.8,3020.5 C555.7,3024.7 563.6,3028.8 571.5,3032.0 C579.4,3035.2 586.0,3037.7 595.2,3039.9 C604.4,3042.1 615.0,3043.9 626.9,3045.1 C638.7,3046.2 646.6,3046.7 666.4,3047.0 C686.2,3047.4 719.1,3047.3 745.5,3047.0 C771.9,3046.8 802.4,3046.4 824.6,3045.5 C846.9,3044.5 863.4,3042.7 879.1,3041.1 C894.8,3039.5 905.4,3038.1 918.6,3036.1 C931.8,3034.1 948.0,3031.3 958.2,3029.2 C968.4,3027.1 973.0,3025.8 980.0,3023.5 C987.0,3021.2 994.0,3018.6 1000.0,3015.5 C1006.0,3012.4 1010.5,3008.8 1015.8,3005.2 C1021.1,3001.6 1026.3,2997.8 1031.6,2994.1 C1036.9,2990.4 1042.2,2987.3 1047.5,2983.1 C1052.8,2978.9 1059.3,2972.6 1063.3,2968.8 C1067.2,2965.0 1068.6,2963.3 1071.2,2960.1 C1073.8,2956.9 1076.5,2953.6 1079.1,2949.8 C1081.7,2946.0 1084.4,2941.8 1087.0,2937.2 C1089.6,2932.6 1092.5,2927.1 1094.9,2922.2 C1097.3,2917.3 1099.3,2912.8 1101.3,2907.9 C1103.3,2903.0 1105.0,2898.7 1107.0,2893.0 C1109.0,2887.3 1111.4,2882.4 1113.5,2874.0 C1115.6,2865.6 1117.7,2853.7 1119.8,2842.8 C1121.9,2831.9 1124.4,2819.9 1126.3,2808.5 C1128.2,2797.1 1129.6,2785.6 1131.2,2774.2 C1132.8,2762.8 1134.3,2751.4 1136.0,2740.0 C1137.7,2728.6 1139.4,2717.1 1141.1,2705.7 C1142.8,2694.3 1144.6,2681.4 1146.3,2671.4 C1148.0,2661.4 1149.3,2654.3 1151.4,2645.7 C1153.5,2637.1 1156.7,2626.5 1158.7,2619.7 C1160.8,2612.9 1162.0,2608.4 1163.7,2604.9 C1165.3,2601.3 1167.2,2599.7 1168.6,2598.3 C1170.0,2596.9 1170.5,2596.4 1171.9,2596.6 C1173.3,2596.9 1175.2,2597.7 1176.9,2599.9 C1178.5,2602.1 1180.2,2605.7 1181.8,2609.8 C1183.5,2613.9 1185.3,2620.1 1186.8,2624.7 C1188.2,2629.2 1188.1,2627.9 1190.8,2637.1 C1193.5,2646.3 1199.1,2665.7 1202.8,2680.0 C1206.5,2694.3 1209.7,2708.5 1213.1,2722.8 C1216.5,2737.1 1220.3,2752.8 1223.4,2765.7 C1226.5,2778.6 1229.1,2788.6 1231.9,2800.0 C1234.8,2811.4 1237.3,2823.6 1240.5,2834.2 C1243.7,2844.8 1247.4,2855.1 1250.8,2863.4 C1254.2,2871.7 1257.7,2878.2 1261.1,2883.9 C1264.5,2889.6 1267.7,2893.0 1271.4,2897.6 C1275.1,2902.2 1278.6,2906.7 1283.4,2911.3 C1288.2,2915.9 1292.7,2921.0 1300.0,2925.1 C1307.3,2929.2 1319.3,2933.6 1327.2,2936.1 C1335.0,2938.7 1340.3,2939.2 1346.9,2940.5 C1353.5,2941.7 1361.2,2943.0 1366.7,2943.6 C1372.2,2944.3 1371.6,2943.7 1380.0,2944.4 C1388.4,2945.1 1404.6,2945.8 1416.9,2947.6 C1429.2,2949.5 1441.5,2952.6 1453.8,2955.5 C1466.1,2958.3 1478.4,2961.0 1490.7,2964.7 C1503.0,2968.4 1515.4,2973.5 1527.7,2977.6 C1540.0,2981.7 1552.3,2985.8 1564.6,2989.2 C1576.9,2992.5 1589.2,2995.2 1601.5,2997.9 C1613.8,3000.6 1626.1,3003.3 1638.4,3005.3 C1650.7,3007.3 1663.0,3008.4 1675.3,3009.9 C1687.6,3011.5 1699.9,3013.3 1712.2,3014.5 C1724.5,3015.8 1735.3,3016.5 1749.1,3017.3 C1763.0,3018.1 1779.9,3019.0 1795.3,3019.6 C1810.7,3020.2 1818.4,3020.5 1841.4,3021.0 C1864.5,3021.5 1896.3,3022.3 1933.7,3022.8 C1971.2,3023.4 2044.1,3024.0 2066.2,3024.2" fill="none" stroke="#000" stroke-width="9.8" stroke-linecap="butt" stroke-linejoin="round"/>
<g fill="none" stroke="#000" stroke-linecap="butt">
<rect x="363.5" y="1775.4" width="1696.9" height="1298.6" stroke-width="9.2"/>
<path d="M363.5,3074.0V3092 M605.9,3074.0V3092 M848.3,3074.0V3092 M1090.7,3074.0V3092 M1333.2,3074.0V3092 M1575.6,3074.0V3092 M1818.0,3074.0V3092 M2060.4,3074.0V3092" stroke-width="9.0"/>
</g>
<g font-size="84" text-anchor="middle">
<text x="363.5" y="3197.4">30</text>
<text x="605.9" y="3197.4">110</text>
<text x="848.3" y="3197.4">190</text>
<text x="1090.7" y="3197.4">270</text>
<text x="1333.2" y="3197.4">350</text>
<text x="1575.6" y="3197.4">430</text>
<text x="1818.0" y="3197.4">510</text>
<text x="2060.4" y="3197.4">590</text>
<text x="1213" y="3281" font-size="83.5">Temperature (<tspan font-size="55" dy="-25">o</tspan><tspan dy="25">C)</tspan></text>
</g>
<text font-size="83.6" text-anchor="middle" transform="translate(183.5,2469.5) rotate(-90)">DTG (µg/min)</text>
<g font-size="84">
<text x="419.8" y="2231.9">iv</text>
<text x="419.8" y="2518.7">iii</text>
<text x="419.8" y="2710.9">ii</text>
<text x="419.8" y="2902.8">i</text>
</g>
<path d="M418.00,2903.2 L419.14,2905.9 L420.27,2903.2 L421.41,2905.9 L422.54,2903.2 L423.68,2905.9 L424.82,2903.2 L425.95,2905.9 L427.09,2903.2 L428.22,2905.9 L429.36,2903.2 L430.50,2905.9 L431.63,2903.2 L432.77,2905.9 L433.90,2903.2 L435.04,2905.9 L436.18,2903.2 L437.31,2905.9 L438.45,2903.2 L439.58,2905.9 L440.72,2903.2 L441.86,2905.9 L442.99,2903.2" fill="none" stroke="#ff0000" stroke-width="1.3" stroke-linejoin="miter"/>
<text x="1096.5" y="3400.2" font-size="86" text-anchor="middle">(<tspan font-weight="bold">b</tspan>)</text>
</g>
</svg>
</body></html>
